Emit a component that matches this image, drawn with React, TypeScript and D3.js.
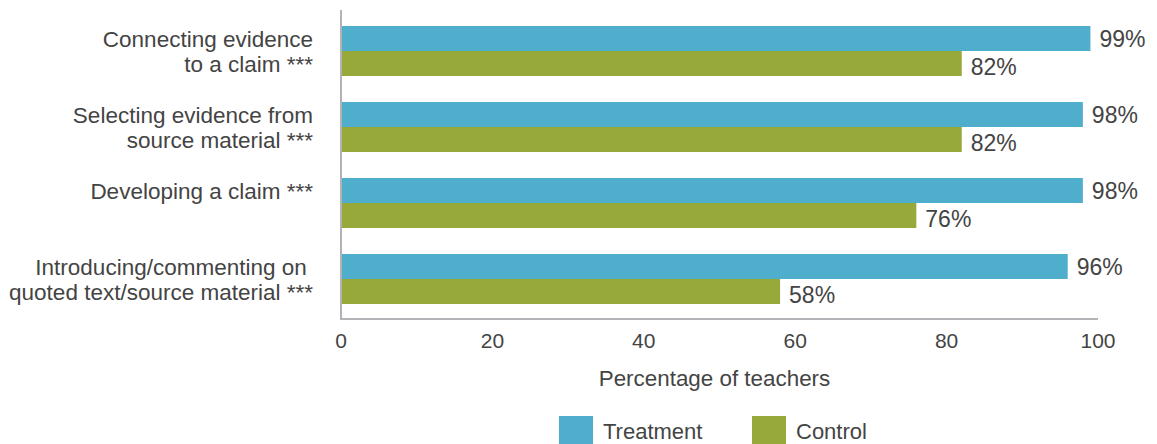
import React from "react";
import * as d3 from "d3";

const categories = [
  ["Connecting evidence", "to a claim ***"],
  ["Selecting evidence from", "source material ***"],
  ["Developing a claim ***"],
  ["Introducing/commenting on ", "quoted text/source material ***"],
];
const seriesNames = ["Treatment", "Control"];
const treatment = [99, 98, 98, 96];
const control = [82, 82, 76, 58];
const xTicks = [0, 20, 40, 60, 80, 100];
const colors = ["#4faecb", "#97a93b"];

const W = 1157;
const H = 444;
const FONT = "'Liberation Sans', Arial, sans-serif";
const TEXT = "#444444";

export default function App() {
  const keys = categories.map((_, i) => String(i));
  const x = d3.scaleLinear().domain([0, 100]).range([341, 1098]);
  const y0 = d3.scaleBand().domain(keys).range([13, 317]).padding(0);
  const bw = y0.bandwidth();
  const y1 = d3
    .scaleBand()
    .domain(seriesNames)
    .range([bw * 0.171, bw * 0.829])
    .padding(0);
  const values = [treatment, control];
  const axisY = 319;

  return (
    <div style={{ position: "fixed", left: 0, top: 0 }}>
      <svg width={W} height={H} style={{ display: "block" }} fontFamily={FONT}>
        <rect width={W} height={H} fill="#fff" />
        {keys.map((k, i) => (
          <g key={k} transform={`translate(0,${y0(k)})`}>
            {seriesNames.map((s, j) => {
              const v = values[j][i];
              const yy = y1(s)!;
              return (
                <g key={s}>
                  <rect
                    x={x(0)}
                    y={yy}
                    width={x(v) - x(0)}
                    height={y1.bandwidth()}
                    fill={colors[j]}
                  />
                  <text
                    x={x(v) + 9}
                    y={yy + y1.bandwidth() / 2 + (j === 1 ? 3 : 0)}
                    dy="0.36em"
                    fontSize={23}
                    fill={TEXT}
                  >
                    {v}%
                  </text>
                </g>
              );
            })}
            {categories[i].map((line, li) => (
              <text
                key={li}
                x={313}
                y={bw / 2 - 12.5 + li * 25}
                dy="0.36em"
                textAnchor="end"
                fontSize={22.5}
                fill={TEXT}
                style={{ whiteSpace: "pre" }}
              >
                {line}
              </text>
            ))}
          </g>
        ))}
        <line x1={x(0)} x2={x(0)} y1={10} y2={axisY + 1} stroke="#b3b3b7" strokeWidth={2} />
        <line x1={x(0) - 1} x2={x(100)} y1={axisY} y2={axisY} stroke="#b3b3b7" strokeWidth={2} />
        {xTicks.map((t) => (
          <text
            key={t}
            x={x(t)}
            y={340}
            dy="0.36em"
            textAnchor="middle"
            fontSize={21}
            fill={TEXT}
          >
            {t}
          </text>
        ))}
        <text
          x={(x(0) + x(100)) / 2 - 5}
          y={378}
          dy="0.36em"
          textAnchor="middle"
          fontSize={22.4}
          fill={TEXT}
        >
          Percentage of teachers
        </text>
        {seriesNames.map((s, j) => {
          const lx = j === 0 ? 559 : 752;
          return (
            <g key={s}>
              <rect x={lx} y={416} width={34} height={34} fill={colors[j]} />
              <text x={lx + 44} y={431} dy="0.36em" fontSize={22} fill={TEXT}>
                {s}
              </text>
            </g>
          );
        })}
      </svg>
    </div>
  );
}
